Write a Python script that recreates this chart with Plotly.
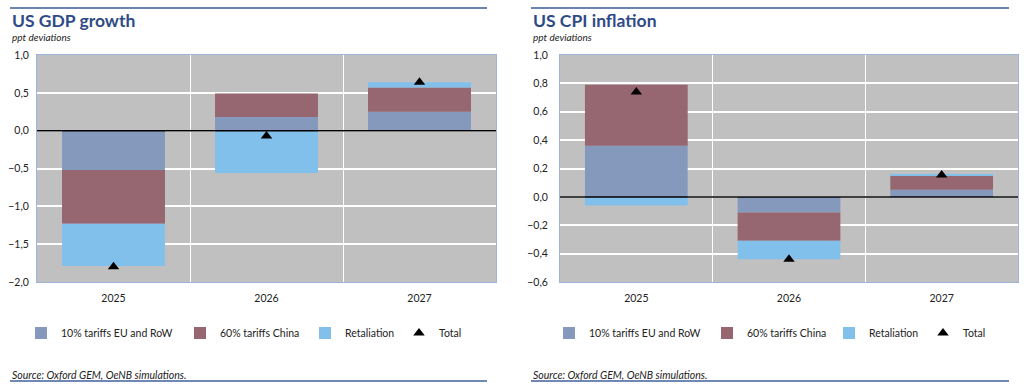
import plotly.graph_objects as go

# ---------------- data ----------------
years = ["2025", "2026", "2027"]
series_names = ["10% tariffs EU and RoW", "60% tariffs China", "Retaliation", "Total"]

gdp_eu_row = [-0.52, 0.18, 0.25]
gdp_china = [-0.71, 0.31, 0.32]
gdp_retaliation = [-0.56, -0.56, 0.07]
gdp_total = [-1.80, -0.07, 0.64]

cpi_eu_row = [0.36, -0.11, 0.05]
cpi_china = [0.43, -0.20, 0.10]
cpi_retaliation = [-0.06, -0.13, 0.005]
cpi_total = [0.74, -0.44, 0.155]

titles = ["US GDP growth", "US CPI inflation"]
subtitle = "ppt deviations"
source = "Source: Oxford GEM, OeNB simulations."

# ---------------- style ----------------
W, H = 1024, 387
C_EU = "#8599BD"
C_CN = "#966671"
C_RET = "#82C0EC"
C_BG = "#C0C0C0"
C_TITLE = "#2F4B86"
C_FRAME = "#9DB5D8"
FONT = "Lato"

def px_x(v):
    return v / W

def px_y(v):
    return 1 - v / H

fig = go.Figure()

panels = [
    dict(x="x", y="y", data=[gdp_eu_row, gdp_china, gdp_retaliation], total=gdp_total,
         legends=["legend2", "legend3", "legend4", "legend5"]),
    dict(x="x2", y="y2", data=[cpi_eu_row, cpi_china, cpi_retaliation], total=cpi_total,
         legends=["legend6", "legend7", "legend8", "legend9"]),
]
colors = [C_EU, C_CN, C_RET]

for p in panels:
    for i, vals in enumerate(p["data"]):
        fig.add_trace(go.Bar(
            x=years, y=vals, name=series_names[i], marker_color=colors[i],
            marker_line_width=0, xaxis=p["x"], yaxis=p["y"], legend=p["legends"][i],
        ))
    fig.add_trace(go.Scatter(
        x=years, y=p["total"], name=series_names[3], mode="markers",
        marker=dict(symbol="triangle-up", size=10, color="black"),
        xaxis=p["x"], yaxis=p["y"], legend=p["legends"][3],
    ))

axis_common = dict(
    showgrid=True, gridcolor="white",
    showline=True, linecolor=C_FRAME, linewidth=1, mirror=True,
    ticks="", tickfont=dict(family=FONT, size=10.5, color="#222"),
)

plot_top, plot_bottom = 55, 282
fig.update_layout(
    width=W, height=H,
    margin=dict(l=0, r=0, t=0, b=0, autoexpand=False),
    paper_bgcolor="white", plot_bgcolor=C_BG,
    barmode="relative", bargap=0.327,
    separators=",.",
    showlegend=True,
    font=dict(family=FONT, size=10, color="#222"),
    xaxis=dict(domain=[px_x(37), px_x(496)], type="category", tickson="boundaries",
               anchor="y", ticklabelstandoff=6, gridwidth=1, **axis_common),
    yaxis=dict(domain=[px_y(plot_bottom), px_y(plot_top)], range=[-2, 1], dtick=0.5,
               tickformat=".1f", zeroline=False, anchor="x", ticklabelstandoff=5,
               gridwidth=1.5, **axis_common),
    xaxis2=dict(domain=[px_x(560), px_x(1018)], type="category", tickson="boundaries",
                anchor="y2", ticklabelstandoff=6, gridwidth=1, **axis_common),
    yaxis2=dict(domain=[px_y(plot_bottom), px_y(plot_top)], range=[-0.6, 1.0], dtick=0.2,
                tickformat=".1f", zeroline=False, anchor="x2", ticklabelstandoff=9,
                gridwidth=1.5, **axis_common),
)

# legends: one per entry, positioned like the reference
legend_text_x = [61, 220, 345, 439, 589, 747, 869, 963]
for k, tx in enumerate(legend_text_x):
    name = f"legend{k+2}"
    fig.update_layout({name: dict(
        x=px_x(tx - 40), y=px_y(333), xanchor="left", yanchor="middle",
        orientation="h", bgcolor="rgba(0,0,0,0)", borderwidth=0,
        font=dict(family=FONT, size=10.5, color="#222"),
    )})

# zero lines drawn above bars
for xr, yr in [("x domain", "y"), ("x2 domain", "y2")]:
    fig.add_shape(type="line", xref=xr, yref=yr, x0=0, x1=1, y0=0, y1=0,
                  line=dict(color="black", width=1.5), layer="above")

# header/footer rules, titles, subtitles, sources
for left, right, title in [(10, 487, titles[0]), (531, 1009, titles[1])]:
    fig.add_shape(type="line", xref="paper", yref="paper",
                  x0=px_x(left), x1=px_x(right), y0=px_y(8), y1=px_y(8),
                  line=dict(color="#3D5B97", width=1.5))
    fig.add_shape(type="line", xref="paper", yref="paper",
                  x0=px_x(left), x1=px_x(right), y0=px_y(381), y1=px_y(381),
                  line=dict(color="#7188B6", width=2))
    fig.add_annotation(x=px_x(left), y=px_y(20), xref="paper", yref="paper",
                       xanchor="left", yanchor="middle", showarrow=False,
                       text=f"<b>{title}</b>",
                       font=dict(family=FONT, size=17.5, color=C_TITLE))
    fig.add_annotation(x=px_x(left), y=px_y(37), xref="paper", yref="paper",
                       xanchor="left", yanchor="middle", showarrow=False,
                       text=f"<i>{subtitle}</i>",
                       font=dict(family=FONT, size=10, color="#222"))
    fig.add_annotation(x=px_x(left), y=px_y(375), xref="paper", yref="paper",
                       xanchor="left", yanchor="middle", showarrow=False,
                       text=f"<i>{source}</i>",
                       font=dict(family=FONT, size=10.5, color="#222"))

fig.write_html("out.html", config={"displayModeBar": False},
               post_script="document.body.style.margin='0';")
